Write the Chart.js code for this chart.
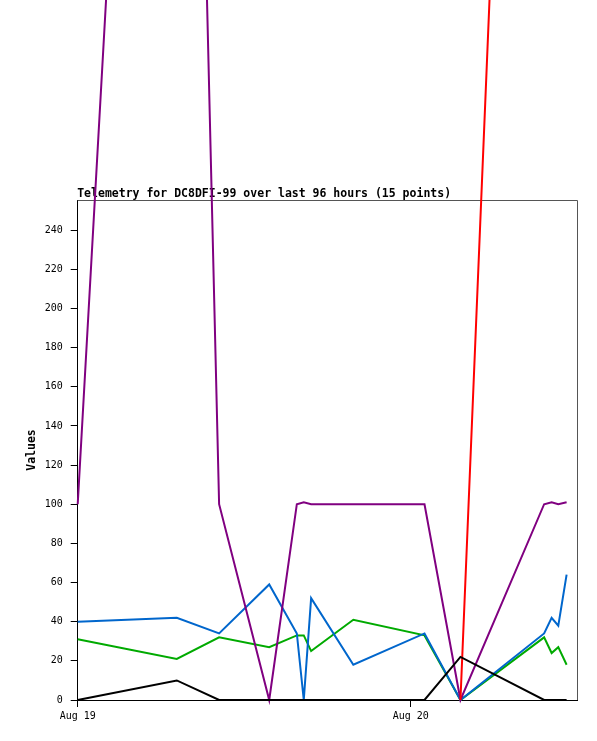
<!DOCTYPE html>
<html>
<head>
<meta charset="utf-8">
<title>Telemetry for DC8DFI-99</title>
<script src="https://cdn.jsdelivr.net/npm/chart.js@4"></script>
<style>
  html, body { margin: 0; padding: 0; background: #fff; }
  #wrap { width: 597px; height: 741px; }
</style>
</head>
<body>
<div id="wrap"><canvas id="telemetryChart" width="597" height="741"></canvas></div>
<script>
// sample times, hours after Aug 19 00:00
const hours = [0, 7.14, 10.19, 13.8, 15.79, 16.29, 16.82, 19.86, 24.99, 27.58, 33.61, 34.15, 34.63, 35.23];

// telemetry channels (red has no samples before the 10th point)
const purpleVals = [100, 1000, 100, 0, 100, 101, 100, 100, 100, 0, 100, 101, 100, 101];
const blueVals   = [40, 42, 34, 59, 34, 0, 52, 18, 34, 0, 34, 42, 38, 64];
const greenVals  = [31, 21, 32, 27, 33, 33, 25, 41, 33, 0, 32, 24, 27, 18];
const blackVals  = [0, 10, 0, 0, 0, 0, 0, 0, 0, 22, 0, 0, 0, 0];
const redVals    = [null, null, null, null, null, null, null, null, null, 0, 1030, 1030, 1030, 1030];

// axis ticks
const xTickValues = [0, 24];
const xTickLabels = ["Aug 19", "Aug 20"];
const yTickValues = [0, 20, 40, 60, 80, 100, 120, 140, 160, 180, 200, 220, 240];

const chartTitle = "Telemetry for DC8DFI-99 over last 96 hours (15 points)";

const toPoints = vals => vals.map((v, i) => ({ x: hours[i], y: v }));

// title above the plot and the grey top/right frame
const framePlugin = {
  id: "frame",
  beforeDatasetsDraw(chart) {
    const { ctx, chartArea: a } = chart;
    ctx.save();
    ctx.strokeStyle = "#555";
    ctx.lineWidth = 1;
    ctx.beginPath();
    ctx.moveTo(a.left, Math.round(a.top) + 0.5);
    ctx.lineTo(Math.round(a.right) + 0.5, Math.round(a.top) + 0.5);
    ctx.lineTo(Math.round(a.right) + 0.5, a.bottom);
    ctx.stroke();
    ctx.fillStyle = "#000";
    ctx.font = "bold 11.5px 'DejaVu Sans Mono'";
    ctx.textBaseline = "alphabetic";
    ctx.fillText(chartTitle, a.left - 0.5, a.top - 3);
    ctx.restore();
  }
};

const line = (vals, color, order) => ({
  data: toPoints(vals),
  borderColor: color,
  backgroundColor: color,
  borderWidth: 2,
  pointRadius: 0,
  tension: 0,
  fill: false,
  clip: false,
  spanGaps: false,
  order: order
});

const ctx = document.getElementById("telemetryChart").getContext("2d");
new Chart(ctx, {
  type: "line",
  data: {
    datasets: [
      line(blackVals, "#000000", 1),
      line(redVals, "#ff0000", 2),
      line(purpleVals, "#800080", 3),
      line(blueVals, "#0066cc", 4),
      line(greenVals, "#00aa00", 5)
    ]
  },
  options: {
    responsive: false,
    animation: false,
    events: [],
    layout: { padding: { left: 0, right: 19.7, top: 200, bottom: 0 } },
    plugins: {
      legend: { display: false },
      tooltip: { enabled: false },
      title: { display: false }
    },
    scales: {
      x: {
        type: "linear",
        min: 0,
        max: 36,
        afterFit: s => { s.height = 41; },
        afterBuildTicks: s => { s.ticks = xTickValues.map(v => ({ value: v })); },
        grid: { display: true, drawOnChartArea: false, drawTicks: true, tickLength: 7, color: "#000" },
        border: { display: true, color: "#000", width: 1 },
        ticks: {
          color: "#000",
          padding: 3,
          maxRotation: 0,
          font: { family: "'DejaVu Sans Mono'", size: 10 },
          callback: v => xTickLabels[xTickValues.indexOf(v)]
        }
      },
      y: {
        min: 0,
        max: 255.4,
        afterFit: s => { s.width = 77.7; },
        afterBuildTicks: s => { s.ticks = yTickValues.map(v => ({ value: v })); },
        grid: { display: true, drawOnChartArea: false, drawTicks: true, tickLength: 7, color: "#000" },
        border: { display: true, color: "#000", width: 1 },
        title: {
          display: true,
          text: "Values",
          color: "#000",
          padding: { top: 25, bottom: 0 },
          font: { family: "'DejaVu Sans Mono'", size: 11.5, weight: "bold" }
        },
        ticks: {
          color: "#000",
          padding: 8,
          font: { family: "'DejaVu Sans Mono'", size: 10 }
        }
      }
    }
  },
  plugins: [framePlugin]
});
</script>
</body>
</html>
